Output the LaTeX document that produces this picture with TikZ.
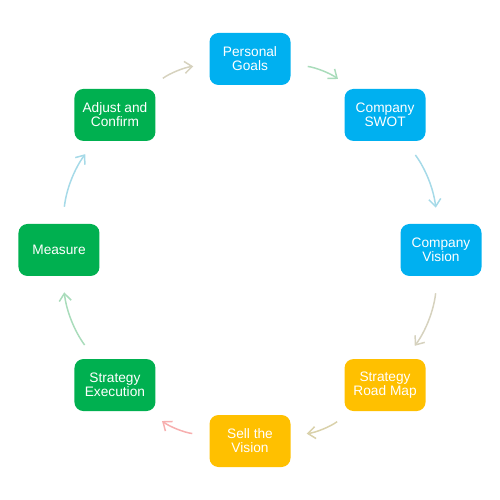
\documentclass[tikz,border=0pt]{standalone}
\usepackage{fontspec}
\setmainfont{Liberation Sans}
\usetikzlibrary{arrows.meta}

\definecolor{goalblue}{HTML}{00B0F0}
\definecolor{goalyellow}{HTML}{FFC000}
\definecolor{goalgreen}{HTML}{00B050}
\definecolor{arrtan}{HTML}{D6D2BE}
\definecolor{arrgreen}{HTML}{A9DCBB}
\definecolor{arrblue}{HTML}{A6DAE8}
\definecolor{arrsand}{HTML}{D9D1AA}
\definecolor{arrpink}{HTML}{F7AFAF}

\begin{document}
\begin{tikzpicture}[>={Straight Barb[length=1.5mm,width=2.4mm]},
  box/.style={rounded corners=0.18cm,minimum width=1.62cm,minimum height=1.04cm,
    inner sep=0pt,align=center,text=white,font=\fontsize{7.8pt}{7.9pt}\selectfont},
  cyc/.style={->,line width=0.85pt,bend left=15,shorten <=0.34cm,shorten >=0.32cm}]
  \useasboundingbox (-5,-5) rectangle (5,5);
  % the eight steps, clockwise from the top
  \node[box,fill=goalblue] (pg) at (90:3.82) {Personal\\Goals};
  \node[box,fill=goalblue] (swot) at (45:3.82) {Company\\SWOT};
  \node[box,fill=goalblue] (vis) at (0:3.82) {Company\\Vision};
  \node[box,fill=goalyellow] (road) at (-45:3.82) {Strategy\\Road Map};
  \node[box,fill=goalyellow] (sell) at (-90:3.82) {Sell the\\Vision};
  \node[box,fill=goalgreen] (exe) at (-135:3.82) {Strategy\\Execution};
  \node[box,fill=goalgreen] (meas) at (180:3.82) {Measure};
  \node[box,fill=goalgreen] (adj) at (135:3.82) {Adjust and\\Confirm};
  % cycle arrows
  \draw[cyc,draw=arrtan] (adj) to (pg);
  \draw[cyc,draw=arrgreen] (pg) to (swot);
  \draw[cyc,draw=arrblue] (swot) to (vis);
  \draw[cyc,draw=arrtan] (vis) to (road);
  \draw[cyc,draw=arrsand] (road) to (sell);
  \draw[cyc,draw=arrpink] (sell) to (exe);
  \draw[cyc,draw=arrgreen] (exe) to (meas);
  \draw[cyc,draw=arrblue] (meas) to (adj);
\end{tikzpicture}
\end{document}
